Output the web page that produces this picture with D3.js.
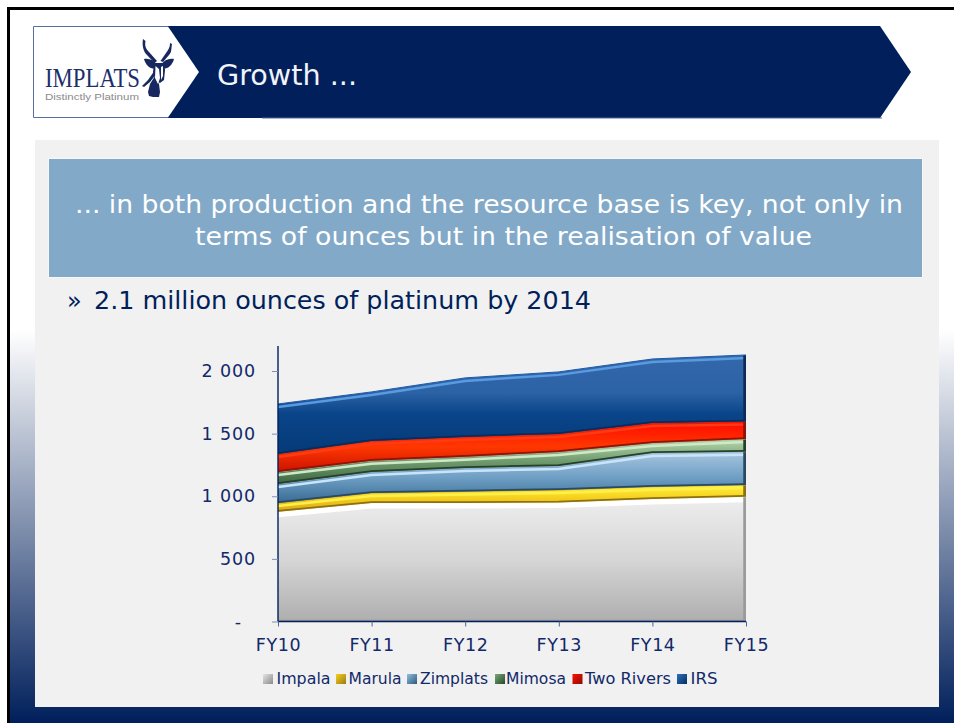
<!DOCTYPE html>
<html><head><meta charset="utf-8">
<script src="https://cdn.jsdelivr.net/npm/d3@7/dist/d3.min.js"></script>
<style>html,body{margin:0;padding:0;background:#fff;overflow:hidden}svg{display:block}text{font-family:"DejaVu Sans",Verdana,sans-serif}</style>
</head><body><div id="c"></div>
<script>
const categories = ["FY10","FY11","FY12","FY13","FY14","FY15"];
const seriesNames = ["Impala","Marula","Zimplats","Mimosa","Two Rivers","IRS"];
const impala   = [877,946,946,950,978,997];
const marula   = [69,80,92,100,98,93];
const zimplats = [152,168,188,192,269,266];
const mimosa   = [96,90,90,111,80,101];
const twoRivers= [144,157,158,144,160,139];
const irs      = [399,392,471,496,511,532];
const seriesValues = [impala,marula,zimplats,mimosa,twoRivers,irs];
const yTicks = [0,500,1000,1500,2000];
const yTickLabels = ["-","500","1 000","1 500","2 000"];
const palette = [
 {stops:[[0,"#eeeeee"],[.5,"#d6d6d6"],[1,"#aeaeae"]],hi:"#ffffff",lo:"#9a9a9a",edge:"#ffffff",sw:["#e4e4e4","#8a8a8a"]},
 {stops:[[0,"#fff23c"],[.5,"#f5cf1e"],[1,"#d9a514"]],hi:"#fff04a",lo:"#8a6f12",edge:"#c9a818",sw:["#f5d020","#9c7a10"]},
 {stops:[[0,"#a8c6e0"],[.5,"#6f9fc4"],[1,"#386a93"]],hi:"#c8e4fa",lo:"#2a4a62",edge:"#8fb4d2",sw:["#8fc0e4","#2f5878"]},
 {stops:[[0,"#b4d8ac"],[.5,"#6f9a6e"],[1,"#3d6640"]],hi:"#cfe9c6",lo:"#26402a",edge:"#9fb99a",sw:["#7aa878","#234a2a"]},
 {stops:[[0,"#ff0a00"],[.5,"#ff3800"],[1,"#cc1200"]],hi:"#ff3a14",lo:"#8c1208",edge:"#d42a10",sw:["#ff1000","#8c0c04"]},
 {stops:[[0,"#3369ab"],[.38,"#2c62a6"],[.6,"#0a4488"],[1,"#053a78"]],hi:"#5a9ae0",lo:"#0a2c5a",edge:"#1d5aa8",sw:["#2f6ec0","#06305f"]}
];
const navy="#001f5b", ink="#12296a";
const W=954,H=723;
const svg=d3.select("#c").append("svg").attr("width",W).attr("height",H);
const defs=svg.append("defs");
const bg=defs.append("linearGradient").attr("id","bg").attr("x1",0).attr("x2",0).attr("y1",0).attr("y2",1);
bg.append("stop").attr("offset",0).attr("stop-color","#fff");
bg.append("stop").attr("offset",1).attr("stop-color",navy);
svg.append("rect").attr("width",W).attr("height",H).attr("fill","#fff");
svg.append("rect").attr("x",9).attr("y",330).attr("width",W-9).attr("height",H-330).attr("fill","url(#bg)");
svg.append("rect").attr("x",7).attr("y",7).attr("width",3).attr("height",H-7).attr("fill","#000");
svg.append("rect").attr("x",7).attr("y",7).attr("width",W-7).attr("height",3).attr("fill","#000");
svg.append("rect").attr("x",35).attr("y",140).attr("width",904).attr("height",567).attr("fill","#f1f1f1");
// header
svg.append("polygon").attr("points","153,26 880,26 911,72 880,118 153,118").attr("fill",navy);
svg.append("rect").attr("x",262).attr("y",117.5).attr("width",620).attr("height",1).attr("fill","#55699a");
svg.append("polygon").attr("points","33,26.5 168,26.5 199,72 168,117.5 33,117.5").attr("fill","#fff");
svg.append("path").attr("d","M168,26.5 H33.5 V117.5 H168").attr("fill","none").attr("stroke","#5a6f9e").attr("stroke-width",1);
const logo=svg.append("g");
logo.append("text").attr("x",45).attr("y",86.5).attr("font-size",27).attr("fill","#1d2f6b").attr("textLength",95).attr("lengthAdjust","spacingAndGlyphs").style("font-family","'Liberation Serif',serif").text("IMPLATS");
logo.append("text").attr("x",45).attr("y",99.7).attr("font-size",9).attr("fill","#8a8a8a").attr("textLength",94).attr("lengthAdjust","spacingAndGlyphs").style("font-family","'Liberation Sans',sans-serif").text("Distinctly Platinum");
// antelope emblem
logo.append("g").attr("fill","#16285f").selectAll("path").data([
 "M143,39 L145.5,41 C144.5,46 146,49 149,52 L157,61 L154.5,63 L147,55 C143,51 142,45 143,39Z",
 "M170,43 L172,44 C171,49 172,52 169,55 L163,62 L160.5,61 L166,53 C168,50 170,48 170,43Z",
 "M144,59 C149,58 154,60 157,65 C156,68 153,69 151,68 C148,67 145,63 144,59Z",
 "M174,59 C169,58 164,60 161,65 C162,68 165,69 167,68 C170,67 173,63 174,59Z",
 "M154,63 L164,63 L165,70 L164,80 L160,83 L156,81 L153,72Z",
 "M155,76 L159,84 L160,92 L159,97 L153,97 L149,96 L148,92 L150,84Z",
 "M158,68 L155,70 L148,80 L142,86 L144,87 L150,82 L157,73Z"
]).join("path").attr("d",d=>d);
logo.append("path").attr("d","M155.5,66 L159,69 L160,78 L158,84 L155,78Z M161,67 L163,66 L163,76 L161,80Z").attr("fill","#fff");
svg.append("text").attr("x",217).attr("y",85).attr("font-size",28).attr("fill","#f1f4fa").attr("textLength",140).attr("lengthAdjust","spacingAndGlyphs").text("Growth ...");
// banner
svg.append("rect").attr("x",48.5).attr("y",158.5).attr("width",874).attr("height",119).attr("fill","#82a9c8").attr("stroke","#f8f8f8").attr("stroke-width",1);
svg.append("text").attr("x",75).attr("y",213).attr("font-size",25.5).attr("fill","#fff").attr("textLength",828).attr("lengthAdjust","spacingAndGlyphs").text("... in both production and the resource base is key, not only in");
svg.append("text").attr("x",195).attr("y",245).attr("font-size",25.5).attr("fill","#fff").attr("textLength",617).attr("lengthAdjust","spacingAndGlyphs").text("terms of ounces but in the realisation of value");
svg.append("text").attr("x",67).attr("y",309).attr("font-size",24).attr("fill",navy).text("»");
svg.append("text").attr("x",94).attr("y",309).attr("font-size",24).attr("fill",navy).attr("textLength",497).attr("lengthAdjust","spacingAndGlyphs").text("2.1 million ounces of platinum by 2014");
// chart
const x=d3.scalePoint().domain(categories).range([278,746]);
const y=d3.scaleLinear().domain([0,2000]).range([621.5,371]);
const rows=categories.map((c,i)=>{const o={cat:c};seriesNames.forEach((s,j)=>o[s]=seriesValues[j][i]);return o;});
const stacked=d3.stack().keys(seriesNames)(rows);
const area=d3.area().x(d=>x(d.data.cat)).y0(d=>y(d[0])).y1(d=>y(d[1]));
const topL=d3.line().x(d=>x(d.data.cat)).y(d=>y(d[1]));
const botL=d3.line().x(d=>x(d.data.cat)).y(d=>y(d[0]));
const blur=defs.append("filter").attr("id","soft").attr("x","-2%").attr("y","-5%").attr("width","104%").attr("height","110%");
blur.append("feGaussianBlur").attr("stdDeviation",0.7);
palette.forEach((p,i)=>{
  const g=defs.append("linearGradient").attr("id","g"+i).attr("x1",0).attr("x2",0).attr("y1",0).attr("y2",1);
  p.stops.forEach(s=>g.append("stop").attr("offset",s[0]).attr("stop-color",s[1]));
  const s=defs.append("linearGradient").attr("id","s"+i).attr("x1",0).attr("x2",1).attr("y1",0).attr("y2",1);
  s.append("stop").attr("offset",0).attr("stop-color",p.sw[0]);
  s.append("stop").attr("offset",1).attr("stop-color",p.sw[1]);
  defs.append("clipPath").attr("id","c"+i).append("path").attr("d",area(stacked[i]));
});
const layer=svg.append("g").selectAll("g").data(stacked).join("g");
layer.append("path").attr("d",area).attr("fill",(d,i)=>`url(#g${i})`);
const inner=layer.append("g").attr("clip-path",(d,i)=>`url(#c${i})`).attr("filter","url(#soft)");
inner.append("path").attr("d",d=>d3.line().x(v=>x(v.data.cat)).y(v=>y(v[1])+3)(d)).attr("fill","none").attr("stroke",(d,i)=>palette[i].hi).attr("stroke-width",(d,i)=>i===0?5:2.5);
inner.append("path").attr("d",botL).attr("fill","none").attr("stroke",(d,i)=>palette[i].lo).attr("stroke-width",3.5);
inner.append("line").attr("x1",745).attr("x2",745).attr("y1",d=>y(d[5][0])).attr("y2",d=>y(d[5][1])).attr("stroke",(d,i)=>palette[i].lo).attr("stroke-width",3.5);
layer.append("path").attr("d",topL).attr("fill","none").attr("stroke",(d,i)=>palette[i].edge).attr("stroke-width",1);
// axes
const ay=svg.append("g").attr("transform","translate(278,0)").call(d3.axisLeft(y).tickValues(yTicks).tickSize(6).tickPadding(16).tickFormat((d,i)=>yTickLabels[i]));
ay.select(".domain").attr("d","M0,346V621.5").attr("stroke",navy).attr("stroke-width",1.4);
ay.selectAll(".tick line").attr("stroke","#7b8fb5").attr("stroke-width",1);
ay.selectAll("text").attr("font-size",17.5).attr("fill",ink).attr("letter-spacing",0.9).style("font-family","'DejaVu Sans',sans-serif");
ay.selectAll(".tick").filter(d=>d===0).select("text").attr("x",-36);
const ax=svg.append("g").attr("transform","translate(0,621.5)").call(d3.axisBottom(x).tickSize(5).tickPadding(12));
ax.select(".domain").attr("d","M278,0H746").attr("stroke",navy).attr("stroke-width",1.4);
ax.selectAll(".tick line").attr("stroke","#4f6596");
ax.selectAll("text").attr("font-size",17.5).attr("fill",ink).attr("letter-spacing",0.6).style("font-family","'DejaVu Sans',sans-serif");
// legend
const legendSwatchX=[263,336,407,495,572.5,677];
const legendTextX=[276.5,348.5,420,506,585,690.5];
const legendTextW=[54,53,68,60,86,27];
const lg=svg.append("g").selectAll("g").data(seriesNames).join("g");
lg.append("rect").attr("x",(d,i)=>legendSwatchX[i]).attr("y",674).attr("width",10).attr("height",10).attr("fill",(d,i)=>`url(#s${i})`);
lg.append("text").attr("x",(d,i)=>legendTextX[i]).attr("y",684).attr("font-size",15).attr("fill",ink).attr("textLength",(d,i)=>legendTextW[i]).attr("lengthAdjust","spacingAndGlyphs").text(d=>d);
</script></body></html>
